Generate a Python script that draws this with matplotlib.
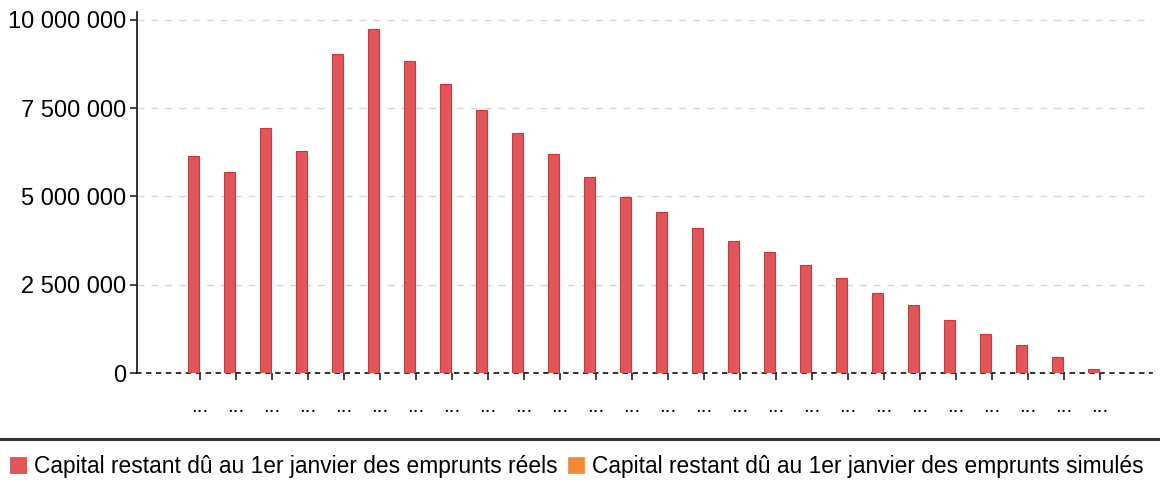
import matplotlib
matplotlib.use("Agg")
import matplotlib.pyplot as plt
from matplotlib.patches import Patch
from matplotlib.lines import Line2D
import matplotlib.ticker as mticker

plt.rcParams['font.family'] = ['Liberation Sans', 'DejaVu Sans']

categories = ["..."] * 26
reels = [6150000, 5700000, 6950000, 6280000, 9030000, 9750000, 8850000, 8200000,
         7450000, 6800000, 6200000, 5550000, 4980000, 4550000, 4100000, 3750000,
         3420000, 3070000, 2700000, 2280000, 1920000, 1500000, 1100000, 780000,
         450000, 100000]
simules = [0] * 26
series_names = ["Capital restant dû au 1er janvier des emprunts réels",
                "Capital restant dû au 1er janvier des emprunts simulés"]
yticks = [0, 2500000, 5000000, 7500000, 10000000]

red = '#e0565a'
red_edge = '#c8383c'
orange = '#f28a35'

fig = plt.figure(figsize=(11.6, 4.84), dpi=100)
ax = fig.add_axes([137/1160, 1 - 373/484, (1152-137)/1160, (373-12)/484])

x = list(range(len(categories)))
w = 0.3
ax.bar([i - 0.17 for i in x], reels, width=w, color=red, edgecolor=red_edge, linewidth=0.8, zorder=3)
ax.bar([i + 0.15 for i in x], simules, width=w, color=orange, linewidth=0, zorder=3)

ax.set_xlim(-1.75, 26.45)
ax.set_ylim(0, 10000000 * (373-12) / (373-20))
ax.set_yticks(yticks)
ax.yaxis.set_major_formatter(mticker.FuncFormatter(lambda v, p: f"{int(v):,}".replace(",", " ")))
ax.set_xticks(x)
ax.set_xticklabels(categories, fontsize=15)

for s in ['top', 'right']:
    ax.spines[s].set_visible(False)
ax.spines['left'].set_color('#222222')
ax.spines['left'].set_linewidth(1.3)
ax.spines['bottom'].set_linestyle((0, (2, 3.5)))
ax.spines['bottom'].set_color('#222222')
ax.spines['bottom'].set_linewidth(1.3)

ax.tick_params(axis='y', labelsize=17, length=5, width=1.2, color='#222222', pad=3)
ax.tick_params(axis='x', length=5, width=1.2, color='#222222', pad=12)

for t in yticks[1:]:
    ax.axhline(t, color='#d4d4d4', linestyle=(0, (5, 5)), linewidth=1, zorder=1)

# legend separator
fig.add_artist(Line2D([0, 1], [1 - 439/484, 1 - 439/484], transform=fig.transFigure,
                      color='#333333', linewidth=2.2))

handles = [Patch(facecolor=red, edgecolor=red_edge, linewidth=0.5),
           Patch(facecolor=orange, edgecolor=orange, linewidth=0.5)]
fig.legend(handles, series_names, loc='center', bbox_to_anchor=(0.497, 1 - 466/484),
           ncol=2, frameon=False, fontsize=16.4, handlelength=0.7, handleheight=0.7,
           handletextpad=0.35, columnspacing=0.45, borderaxespad=0)

fig.savefig('out.png', dpi=100)
